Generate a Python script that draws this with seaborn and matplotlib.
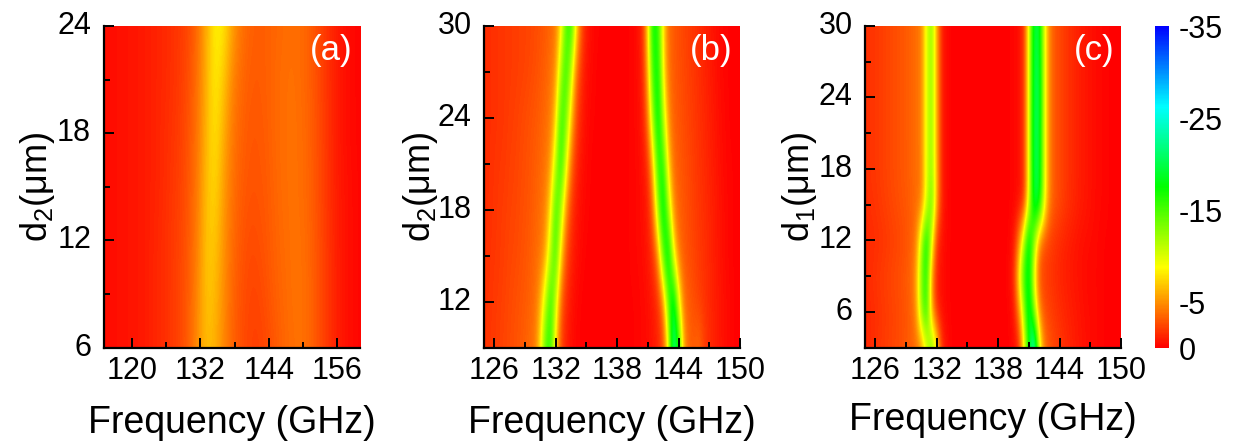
import numpy as np
import matplotlib
matplotlib.use('Agg')
import matplotlib.pyplot as plt
import seaborn as sns

# frequency grids (GHz) and thickness rows (um), rows go from small d to large d
freq_a = [115 + 1.5 * i for i in range(31)]
freq_bc = [125 + 0.5 * i for i in range(51)]
d_a = [6, 9, 12, 15, 18, 21, 24]
d_b = [9, 12, 15, 18, 21, 24, 27, 30]
d_c = [3, 6, 9, 12, 15, 18, 21, 24, 27, 30]

# reflection values (dB)
panel_a = [
    [-.4, -.5, -.6, -.7, -.8, -1, -1.3, -1.6, -2, -2.5,
     -3.4, -5, -6.6, -6, -4.6, -3.4, -2.7, -2.3, -2.2, -2.5, -3, -3.5, -3.8, -3.9, -3.6, -2.8, -2, -1.2, -.7, -.4, -.2],
    [-.4, -.5, -.6, -.7, -.8, -1, -1.3, -1.6, -2, -2.5,
     -3.3, -4.8, -6.9, -6.4, -4.8, -3.5, -2.8, -2.4, -2.4, -2.8, -3.3, -3.6, -3.9, -3.9, -3.6, -2.8, -2, -1.2, -.7, -.4, -.2],
    [-.4, -.5, -.6, -.7, -.8, -1, -1.3, -1.6, -2, -2.4,
     -3.2, -4.5, -6.9, -6.9, -5, -3.7, -3, -2.6, -2.7, -3, -3.4, -3.7, -3.9, -3.9, -3.5, -2.8, -2, -1.2, -.7, -.4, -.2],
    [-.4, -.5, -.6, -.7, -.8, -1, -1.2, -1.5, -1.9, -2.3,
     -3.1, -4.3, -6.7, -7.5, -5.3, -3.9, -3.2, -2.9, -2.9, -3.1, -3.5, -3.8, -3.9, -3.8, -3.4, -2.7, -1.9, -1.1, -.7, -.4, -.2],
    [-.4, -.5, -.6, -.7, -.8, -1, -1.2, -1.5, -1.8, -2.2,
     -3, -4.1, -6.4, -8, -5.9, -4.1, -3.4, -3, -3, -3.2, -3.6, -3.8, -3.9, -3.8, -3.4, -2.7, -1.9, -1.1, -.6, -.3, -.2],
    [-.4, -.5, -.6, -.7, -.8, -1, -1.2, -1.4, -1.7, -2.1,
     -2.8, -4, -6.2, -8.3, -6.8, -4.5, -3.6, -3.2, -3.1, -3.3, -3.6, -3.8, -3.9, -3.7, -3.3, -2.6, -1.8, -1.1, -.6, -.3, -.2],
    [-.4, -.5, -.6, -.7, -.8, -1, -1.2, -1.4, -1.7, -2,
     -2.6, -3.8, -6, -8.5, -8, -5.5, -4, -3.4, -3.2, -3.3, -3.5, -3.7, -3.8, -3.7, -3.3, -2.6, -1.8, -1.1, -.6, -.3, -.2],
]

panel_b = [
    [-1.7, -1.9, -2, -2.2, -2.4, -2.6, -2.8, -3, -3.3, -3.7, -4.2, -8, -15, -16, -7.5, -2.5, -1.1,
     -.5, -.2, -.1, 0, 0, 0, 0, 0, 0, 0, 0, -.1, -.1, -.2, -.3, -.4, -.7,
     -1.2, -2.4, -8, -23, -18, -6, -3.5, -3.2, -3.8, -2.2, -1.6, -1.1, -.8, -.5, -.3, -.1, 0],
    [-1.7, -1.8, -2, -2.1, -2.3, -2.5, -2.7, -2.9, -3.1, -3.4, -3.9, -5.8, -11, -16.5, -10.5, -3.5, -1.5,
     -.7, -.3, -.1, 0, 0, 0, 0, 0, 0, 0, 0, -.1, -.1, -.2, -.3, -.5, -.9,
     -1.6, -4, -14, -21, -10, -4, -3.2, -2.7, -2.2, -1.8, -1.4, -1.1, -.8, -.5, -.3, -.1, 0],
    [-1.6, -1.7, -1.9, -2, -2.2, -2.4, -2.5, -2.7, -2.9, -3.2, -3.6, -4, -5.5, -11.5, -16, -7.5, -2.8,
     -1.3, -.6, -.3, -.1, 0, 0, 0, 0, 0, 0, 0, -.1, -.2, -.3, -.4, -.8, -1.6,
     -4.5, -14.5, -20.5, -9, -4, -3.2, -2.7, -2.4, -2, -1.7, -1.4, -1, -.7, -.4, -.2, -.1, 0],
    [-1.5, -1.7, -1.8, -2, -2.1, -2.3, -2.4, -2.6, -2.8, -3, -3.4, -3.8, -4.6, -8, -16, -12, -5,
     -2, -.9, -.4, -.2, -.1, 0, 0, 0, 0, 0, 0, -.1, -.2, -.3, -.5, -1, -3.6,
     -12, -20, -12, -5, -3.4, -3, -2.6, -2.2, -1.9, -1.6, -1.3, -1, -.7, -.4, -.2, -.1, 0],
    [-1.5, -1.6, -1.8, -1.9, -2, -2.2, -2.3, -2.5, -2.7, -2.9, -3.2, -3.5, -4, -5.2, -11, -17, -10,
     -3.8, -1.5, -.6, -.3, -.1, 0, 0, 0, 0, 0, 0, -.1, -.2, -.3, -.6, -1.6, -6.5,
     -16.5, -16.5, -7.5, -3.8, -3.2, -2.8, -2.5, -2.1, -1.8, -1.5, -1.2, -.9, -.6, -.3, -.2, -.1, 0],
    [-1.5, -1.6, -1.7, -1.8, -1.9, -2.1, -2.2, -2.4, -2.6, -2.8, -3, -3.3, -3.7, -4.3, -7, -16, -14,
     -7, -2.6, -1.1, -.4, -.2, -.1, 0, 0, 0, 0, 0, -.1, -.2, -.4, -.9, -4, -12.5,
     -19, -11.5, -5, -3.4, -3, -2.6, -2.3, -2, -1.7, -1.4, -1.1, -.8, -.5, -.3, -.1, 0, 0],
    [-1.5, -1.6, -1.7, -1.8, -1.9, -2, -2.1, -2.2, -2.3, -2.5, -2.7, -3, -3.3, -3.9, -5, -11.5, -16.5,
     -11, -4, -1.6, -.6, -.3, -.1, 0, 0, 0, 0, 0, -.1, -.2, -.4, -1.2, -6, -16,
     -18, -8.5, -4, -3.2, -2.8, -2.5, -2.2, -1.9, -1.6, -1.3, -1, -.7, -.4, -.2, -.1, 0, 0],
    [-1.5, -1.6, -1.7, -1.8, -1.9, -2, -2.1, -2.2, -2.3, -2.4, -2.6, -2.8, -3.1, -3.5, -4.2, -7.5, -14.5,
     -16.5, -8.5, -3, -1, -.4, -.2, -.1, 0, 0, 0, 0, -.1, -.2, -.5, -1.5, -7.5, -18,
     -16, -8, -3.8, -3.1, -2.7, -2.4, -2.1, -1.8, -1.5, -1.2, -.9, -.6, -.4, -.2, -.1, 0, 0],
]

panel_c = [
    [-1.3, -1.5, -1.7, -1.9, -2.1, -2.3, -2.5, -2.7, -3, -3.3, -3.7, -4.3, -9, -14, -9, -1.8, -.5,
     -.1, 0, 0, 0, 0, 0, 0, 0, 0, 0, 0, -.1, -.3, -1, -7.5, -17, -27,
     -11, -4.5, -3, -2.4, -2, -1.6, -1.3, -1, -.8, -.6, -.4, -.3, -.2, -.1, -.1, 0, 0],
    [-1.3, -1.4, -1.6, -1.8, -2, -2.2, -2.4, -2.6, -2.9, -3.3, -5, -12.5, -17, -6, -1.3, -.5, -.2,
     -.1, 0, 0, 0, 0, 0, 0, 0, 0, 0, 0, -.1, -.5, -4, -11, -21, -13,
     -5, -2.8, -2.3, -1.9, -1.6, -1.3, -1.1, -.9, -.7, -.5, -.4, -.3, -.2, -.1, -.1, 0, 0],
    [-1.5, -1.6, -1.8, -2, -2.2, -2.4, -2.6, -2.8, -3.1, -3.6, -5.5, -13, -17, -5.5, -1.2, -.5, -.2,
     -.1, 0, 0, 0, 0, 0, 0, 0, 0, 0, 0, -.3, -1.2, -8, -16, -19, -9,
     -3, -2.2, -1.9, -1.6, -1.3, -1.1, -.9, -.7, -.6, -.4, -.3, -.3, -.2, -.1, -.1, 0, 0],
    [-1.3, -1.4, -1.6, -1.7, -1.9, -2.1, -2.3, -2.5, -2.8, -3.2, -4.4, -11, -19, -10, -1.8, -.6, -.2,
     -.1, 0, 0, 0, 0, 0, 0, 0, 0, 0, 0, -.1, -.6, -4, -11, -20, -13,
     -4.5, -2.6, -2.2, -1.8, -1.5, -1.2, -1, -.8, -.6, -.5, -.4, -.3, -.2, -.1, -.1, 0, 0],
    [-1.5, -1.7, -1.8, -2, -2.2, -2.4, -2.6, -2.8, -3, -3.3, -3.7, -4.2, -9.5, -15, -6, -1.2, -.3,
     -.1, 0, 0, 0, 0, 0, 0, 0, 0, 0, 0, -.1, -.2, -.5, -1.5, -9, -20,
     -19, -10, -4.5, -3, -2.5, -2, -1.6, -1.3, -1, -.8, -.6, -.4, -.3, -.2, -.1, 0, 0],
    [-1.6, -1.8, -1.9, -2.1, -2.3, -2.5, -2.7, -2.9, -3.1, -3.4, -3.8, -4.3, -9.5, -13, -6, -1.2, -.3,
     -.1, 0, 0, 0, 0, 0, 0, 0, 0, 0, 0, -.1, -.2, -.5, -1.5, -9, -20,
     -20, -10, -4.5, -3, -2.5, -2, -1.6, -1.3, -1, -.8, -.6, -.4, -.3, -.2, -.1, 0, 0],
    [-1.6, -1.8, -1.9, -2.1, -2.3, -2.5, -2.7, -2.9, -3.1, -3.4, -3.8, -4.3, -9.5, -13, -6, -1.2, -.3,
     -.1, 0, 0, 0, 0, 0, 0, 0, 0, 0, 0, -.1, -.2, -.5, -1.5, -9, -20.5,
     -20, -10, -4.5, -3, -2.5, -2, -1.6, -1.3, -1, -.8, -.6, -.4, -.3, -.2, -.1, 0, 0],
    [-1.6, -1.8, -1.9, -2.1, -2.3, -2.5, -2.7, -2.9, -3.1, -3.4, -3.8, -4.3, -9.5, -13, -6, -1.2, -.3,
     -.1, 0, 0, 0, 0, 0, 0, 0, 0, 0, 0, -.1, -.2, -.5, -1.5, -9, -20,
     -20.5, -10, -4.5, -3, -2.5, -2, -1.6, -1.3, -1, -.8, -.6, -.4, -.3, -.2, -.1, 0, 0],
    [-1.6, -1.8, -1.9, -2.1, -2.3, -2.5, -2.7, -2.9, -3.1, -3.4, -3.8, -4.3, -9.5, -13, -6, -1.2, -.3,
     -.1, 0, 0, 0, 0, 0, 0, 0, 0, 0, 0, -.1, -.2, -.5, -1.5, -9, -20,
     -20, -10, -4.5, -3, -2.5, -2, -1.6, -1.3, -1, -.8, -.6, -.4, -.3, -.2, -.1, 0, 0],
    [-1.6, -1.8, -1.9, -2.1, -2.3, -2.5, -2.7, -2.9, -3.1, -3.4, -3.8, -4.3, -9.5, -13, -6, -1.2, -.3,
     -.1, 0, 0, 0, 0, 0, 0, 0, 0, 0, 0, -.1, -.2, -.5, -1.5, -9, -19.5,
     -19.5, -10, -4.5, -3, -2.5, -2, -1.6, -1.3, -1, -.8, -.6, -.4, -.3, -.2, -.1, 0, 0],
]

xticks_a = [120, 132, 144, 156]
xminor_a = [126, 138, 150]
yticks_a = [6, 12, 18, 24]
yminor_a = [9, 15, 21]
xticks_bc = [126, 132, 138, 144, 150]
xminor_bc = [129, 135, 141, 147]
yticks_b = [12, 18, 24, 30]
yminor_b = [15, 21, 27]
yticks_c = [6, 12, 18, 24, 30]
yminor_c = [9, 15, 21, 27]
cbar_ticks = [-35, -25, -15, -5, 0]
cbar_labels = ['-35', '-25', '-15', '-5', '0']

sns.set_style('ticks')
plt.rcParams['font.family'] = ['Liberation Sans', 'DejaVu Sans']
plt.rcParams['mathtext.default'] = 'regular'
plt.rcParams['mathtext.fontset'] = 'custom'
plt.rcParams['mathtext.rm'] = 'Liberation Sans'

W, H = 1237, 441
TICK_SIZE = 22
LABEL_SIZE = 27

fig = plt.figure(figsize=(W / 100, H / 100), dpi=100)
cmap = sns.blend_palette(['#0000ff', '#00ffff', '#00ff00', '#ffff00', '#ff0000'], n_colors=256, as_cmap=True)


def px_axes(left, right, top, bottom):
    return fig.add_axes([left / W, 1 - bottom / H, (right - left) / W, (bottom - top) / H])


def draw_panel(ax, data, freq, d, xticks, xminor, yticks, yminor, ylabel, tag, tag_x, ylab_x, xlab_y, cbar_ax=None):
    data = np.array(data)
    sns.heatmap(data, ax=ax, cmap=cmap, vmin=-35, vmax=0, cbar=cbar_ax is not None, cbar_ax=cbar_ax)
    # same values again on top, smoothed, because the reference is a smooth contour map
    ax.imshow(data, cmap=cmap, vmin=-35, vmax=0, origin='lower', aspect='auto', interpolation='bicubic',
              interpolation_stage='data', extent=(0, data.shape[1], 0, data.shape[0]), zorder=1.5)

    # cell centres sit at index + 0.5
    fx = lambda v: (np.array(v) - freq[0]) / (freq[1] - freq[0]) + 0.5
    fy = lambda v: (np.array(v) - d[0]) / (d[1] - d[0]) + 0.5
    ax.set_xlim(fx(freq[0]), fx(freq[-1]))
    ax.set_ylim(fy(d[0]), fy(d[-1]))
    ax.set_xticks(fx(xticks))
    ax.set_xticklabels([str(v) for v in xticks], rotation=0, fontsize=TICK_SIZE)
    ax.set_yticks(fy(yticks))
    ax.set_yticklabels([str(v) for v in yticks], rotation=0, fontsize=TICK_SIZE)
    ax.set_xticks(fx(xminor), minor=True)
    ax.set_yticks(fy(yminor), minor=True)

    ax.set_axisbelow(False)
    ax.tick_params(which='major', direction='in', length=7.5, width=1.4, color='black', labelcolor='black')
    ax.tick_params(which='minor', direction='in', length=4.5, width=1.4, color='black')
    ax.tick_params(axis='x', which='major', pad=6)
    ax.tick_params(axis='y', which='major', pad=9)
    for side in ['top', 'right']:
        ax.spines[side].set_visible(False)
    for side in ['left', 'bottom']:
        ax.spines[side].set_visible(True)
        ax.spines[side].set_linewidth(1.6)
        ax.spines[side].set_color('black')

    ax.set_xlabel('Frequency (GHz)', fontsize=LABEL_SIZE, color='black')
    ax.set_ylabel(ylabel, fontsize=26, color='black')
    ax.xaxis.set_label_coords(0.5, xlab_y)
    ax.yaxis.set_label_coords(ylab_x, 0.5)
    ax.text(tag_x, 0.925, tag, color='white', fontsize=25, ha='center', va='center', transform=ax.transAxes)


ax_a = px_axes(103.5, 360, 26, 347.5)
ax_b = px_axes(484, 740, 26, 347.5)
ax_c = px_axes(865, 1121, 26, 347.5)
ax_cb = px_axes(1155, 1169, 26, 348)

draw_panel(ax_a, panel_a, freq_a, d_a, xticks_a, xminor_a, yticks_a, yminor_a,
           r'd$_2$(μm)', '(a)', 0.887, -0.18, -0.179)
draw_panel(ax_b, panel_b, freq_bc, d_b, xticks_bc, xminor_bc, yticks_b, yminor_b,
           r'd$_2$(μm)', '(b)', 0.889, -0.17, -0.179)
draw_panel(ax_c, panel_c, freq_bc, d_c, xticks_bc, xminor_bc, yticks_c, yminor_c,
           r'd$_1$(μm)', '(c)', 0.895, -0.18, -0.169, cbar_ax=ax_cb)

ax_cb.set_yticks(cbar_ticks)
ax_cb.set_yticklabels(cbar_labels, fontsize=TICK_SIZE, color='black')
ax_cb.invert_yaxis()
ax_cb.tick_params(length=0, pad=7)

plt.savefig('out.png', dpi=100)
